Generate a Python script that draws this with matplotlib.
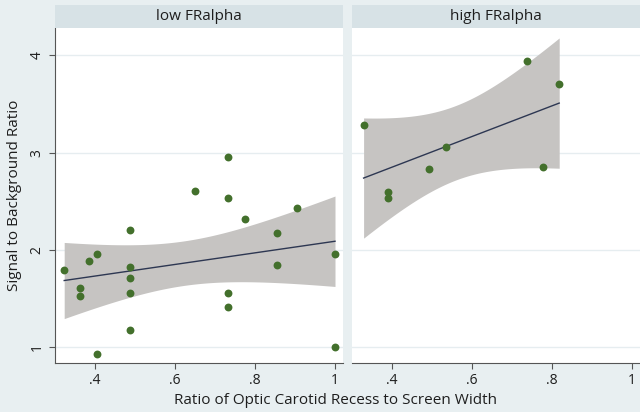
import numpy as np
import matplotlib
matplotlib.use("Agg")
import matplotlib.pyplot as plt

plt.rcParams['font.family'] = ['Open Sans', 'DejaVu Sans']

# data
low_x = [0.323, 0.363, 0.363, 0.384, 0.405, 0.405, 0.488, 0.488, 0.488, 0.488, 0.488,
         0.651, 0.733, 0.733, 0.775, 0.733, 0.733, 0.856, 0.856, 0.904, 1.0, 1.0]
low_y = [1.79, 1.61, 1.53, 1.89, 1.96, 0.935, 2.21, 1.83, 1.71, 1.56, 1.18,
         2.61, 2.96, 2.53, 2.32, 1.56, 1.41, 2.18, 1.85, 2.43, 1.96, 1.0]
high_x = [0.329, 0.389, 0.389, 0.492, 0.535, 0.737, 0.777, 0.818]
high_y = [3.28, 2.60, 2.53, 2.83, 3.06, 3.94, 2.85, 3.71]

panels = ['low FRalpha', 'high FRalpha']
xticks = [0.4, 0.6, 0.8, 1.0]
xtick_labels = ['.4', '.6', '.8', '1']
yticks = [1, 2, 3, 4]

bg = '#e8eff1'
strip = '#d7e2e6'
dot = '#43702c'
band = '#c6c4c2'
line = '#2d3752'
txt = '#1e1e1e'


def fit_ci(x, y, tcrit):
    # linear fit with 95% CI of the mean, like Stata's lfitci
    x = np.asarray(x)
    y = np.asarray(y)
    n = len(x)
    b, a = np.polyfit(x, y, 1)
    resid = y - (a + b * x)
    s = np.sqrt((resid ** 2).sum() / (n - 2))
    sxx = ((x - x.mean()) ** 2).sum()
    xs = np.linspace(x.min(), x.max(), 100)
    yhat = a + b * xs
    se = s * np.sqrt(1 / n + (xs - x.mean()) ** 2 / sxx)
    return xs, yhat, yhat - tcrit * se, yhat + tcrit * se


fig = plt.figure(figsize=(6.4, 4.12), dpi=100)
fig.patch.set_facecolor(bg)

ax1 = fig.add_axes([55 / 640, 49 / 412, 288 / 640, 335 / 412])
ax2 = fig.add_axes([352 / 640, 49 / 412, 288 / 640, 335 / 412])

data = [(low_x, low_y, 2.086), (high_x, high_y, 2.447)]

for ax, title, (x, y, t) in zip([ax1, ax2], panels, data):
    ax.set_facecolor('white')
    xs, yhat, lo, hi = fit_ci(x, y, t)
    ax.fill_between(xs, lo, hi, color=band, lw=0, zorder=2)
    ax.plot(xs, yhat, color=line, lw=1.0, zorder=3)
    ax.scatter(x, y, s=32, color=dot, zorder=4, lw=0)
    ax.set_xlim(0.3, 1.02)
    ax.set_ylim(0.84, 4.28)
    ax.set_xticks(xticks)
    ax.set_xticklabels(xtick_labels)
    ax.set_yticks(yticks)
    ax.grid(axis='y', color='#e6edf0', lw=1.0, zorder=0)
    ax.set_axisbelow(True)
    for sp in ['top', 'right']:
        ax.spines[sp].set_visible(False)
    ax.spines['bottom'].set_color('#555555')
    ax.spines['left'].set_color('#555555')
    ax.tick_params(axis='x', colors='#555555', labelcolor=txt, labelsize=10, length=4)
    ax.tick_params(axis='y', colors='#555555', labelcolor=txt, labelsize=10, length=4,
                   labelrotation=90)

    # header strip
    pos = ax.get_position()
    fig.patches.append(plt.Rectangle((pos.x0, pos.y1), pos.width, 23 / 412,
                                     transform=fig.transFigure, fc=strip, ec='none'))
    fig.text(pos.x0 + pos.width / 2, pos.y1 + 11.5 / 412, title, ha='center', va='center',
             fontsize=11, color=txt)

for lab in ax1.get_yticklabels():
    lab.set_va('center')

ax2.spines['left'].set_visible(False)
ax2.tick_params(axis='y', left=False, labelleft=False)

fig.text(336 / 640, 12 / 412, 'Ratio of Optic Carotid Recess to Screen Width', ha='center',
         va='center', fontsize=11, color=txt)
fig.text(15 / 640, 0.5 * (49 + 384) / 412, 'Signal to Background Ratio', ha='center',
         va='center', rotation=90, fontsize=11, color=txt)

fig.savefig('out.png', dpi=100, facecolor=bg)
